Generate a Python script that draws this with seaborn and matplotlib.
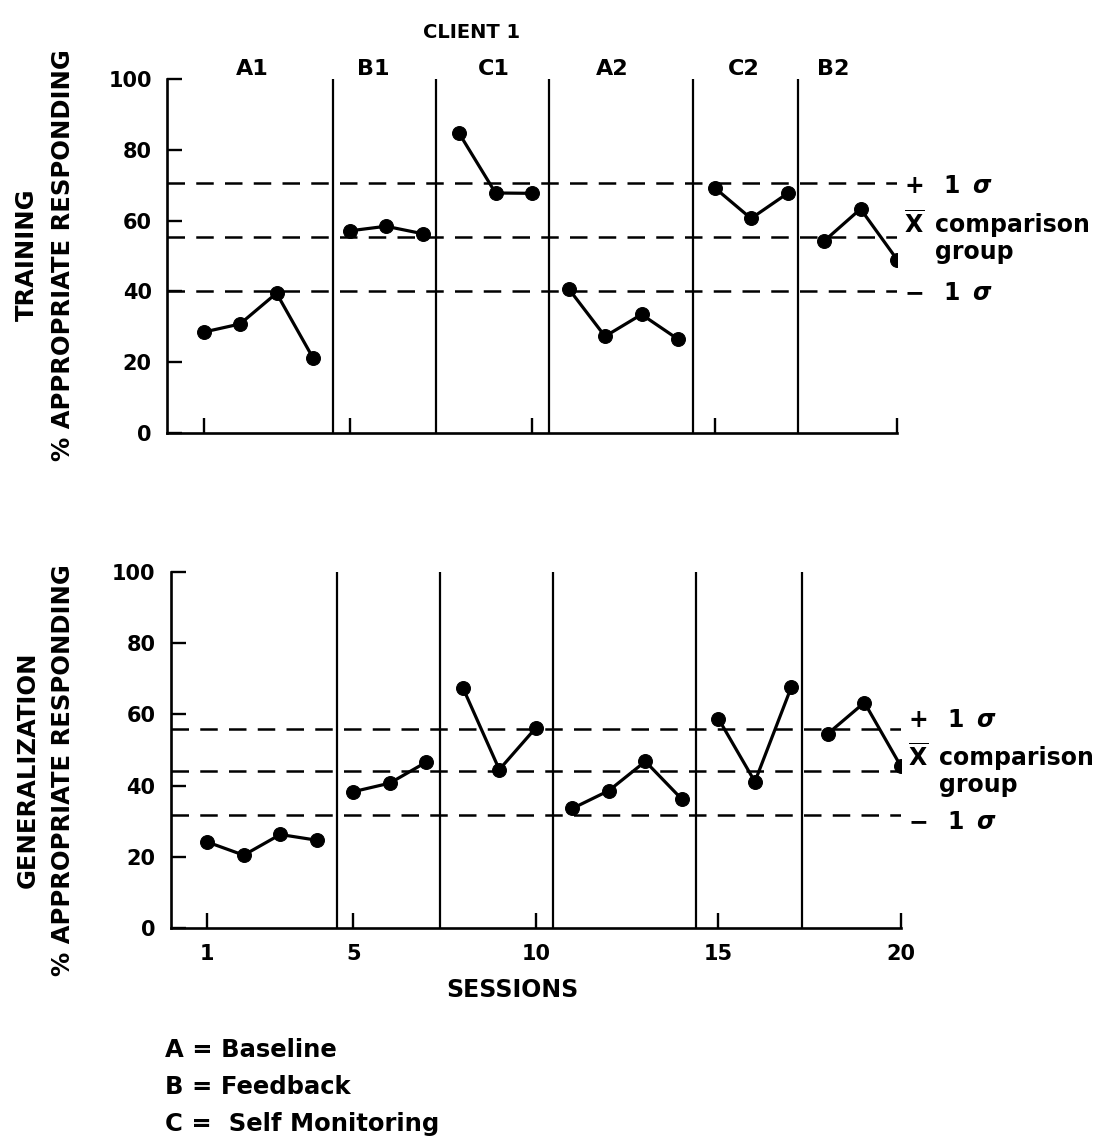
import numpy as np
import pandas as pd
import matplotlib
matplotlib.use("Agg")
import matplotlib.pyplot as plt
import seaborn as sns

# data
sessions = list(range(1, 21))
phases = ["A1"] * 4 + ["B1"] * 3 + ["C1"] * 3 + ["A2"] * 4 + ["C2"] * 3 + ["B2"] * 3
phase_names = ["A1", "B1", "C1", "A2", "C2", "B2"]
phase_breaks = [4.55, 7.37, 10.47, 14.4, 17.3]

training = [28.5, 30.8, 39.5, 21.2, 57.1, 58.4, 56.3, 84.7, 67.8, 67.7,
            40.8, 27.3, 33.5, 26.5, 69.3, 60.6, 67.7, 54.2, 63.3, 49.0]
generalization = [24.2, 20.5, 26.3, 24.7, 38.3, 40.7, 46.6, 67.5, 44.5, 56.2,
                  33.6, 38.6, 46.8, 36.2, 58.8, 41.1, 67.7, 54.6, 63.3, 45.4]

# comparison group: mean, -1 sd, +1 sd
train_ref = [55.3, 40.0, 70.7]
gen_ref = [44.2, 31.8, 55.8]

x_ticks = [1, 5, 10, 15, 20]
y_ticks = [0, 20, 40, 60, 80, 100]
legend_lines = ["A = Baseline", "B = Feedback", "C =  Self Monitoring"]

sns.set_style("ticks")
plt.rcParams["font.family"] = ["DejaVu Sans"]
plt.rcParams["font.weight"] = "bold"
plt.rcParams["mathtext.fontset"] = "dejavusans"
for key in ["text.color", "axes.labelcolor", "xtick.color", "ytick.color",
            "axes.edgecolor"]:
    plt.rcParams[key] = "black"

fig = plt.figure(figsize=(11.12, 11.48), dpi=100)
ax_top = fig.add_axes([0.1502, 0.6228, 0.6565, 0.3084])
ax_bot = fig.add_axes([0.1535, 0.1914, 0.6567, 0.3106])


def draw_panel(ax, values, ref, label_y, show_xlabels):
    df = pd.DataFrame({"session": sessions, "value": values, "phase": phases})
    for y in ref:
        ax.axhline(y, color="black", lw=1.8, dashes=(7, 4.5), zorder=1)
    for xb in phase_breaks:
        ax.axvline(xb, color="black", lw=1.6, zorder=1)
    sns.lineplot(data=df, x="session", y="value", units="phase", estimator=None,
                 color="black", lw=2.3, marker="o", markersize=10,
                 markeredgecolor="black", legend=False, ax=ax, zorder=3)
    ax.set_xlim(0, 20)
    ax.set_ylim(0, 100)
    ax.set_xticks(x_ticks)
    ax.set_yticks(y_ticks)
    ax.set_xlabel("")
    ax.set_ylabel("")
    ax.tick_params(direction="in", length=11, width=1.7, labelsize=15, pad=11)
    if not show_xlabels:
        ax.set_xticklabels([])
    for lbl in ax.get_xticklabels() + ax.get_yticklabels():
        lbl.set_fontweight("bold")
    sns.despine(ax=ax)
    for s in ["left", "bottom"]:
        ax.spines[s].set_linewidth(1.9)

    # right-hand annotations for the comparison group
    kw = dict(transform=ax.transData, clip_on=False, fontsize=17,
              fontweight="bold", va="center")
    ax.text(20.47, label_y[0], "+", ha="center", **kw)
    ax.text(21.5, label_y[0], "1", ha="center", **kw)
    ax.text(22.33, label_y[0], "$\\sigma$", ha="center", **kw)
    ax.text(20.47, label_y[1], "$\\overline{\\mathbf{X}}$", ha="center", **kw)
    ax.text(21.04, label_y[1], "comparison", ha="left", **kw)
    ax.text(21.04, label_y[2], "group", ha="left", **kw)
    ax.text(20.47, label_y[3], "\u2212", ha="center", **kw)
    ax.text(21.5, label_y[3], "1", ha="center", **kw)
    ax.text(22.33, label_y[3], "$\\sigma$", ha="center", **kw)


draw_panel(ax_top, training, train_ref, [69.9, 58.8, 51.2, 39.6], False)
draw_panel(ax_bot, generalization, gen_ref, [58.4, 47.8, 40.2, 29.8], True)

# phase labels above the top panel
label_x = [2.33, 5.64, 8.96, 12.2, 15.8, 18.25]
for name, xl in zip(phase_names, label_x):
    ax_top.text(xl, 99.9, name, ha="center", va="bottom", fontsize=16,
                fontweight="bold", clip_on=False)

fig.text(472 / 1112, 1 - 32 / 1148, "CLIENT 1", ha="center", va="center",
         fontsize=14, fontweight="bold")

fig.text(45 / 1112, 1 - 255 / 1148, "TRAINING\n% APPROPRIATE RESPONDING",
         rotation=90, ha="center", va="center", fontsize=17.5,
         fontweight="bold", linespacing=1.6, multialignment="center")
fig.text(45 / 1112, 1 - 770 / 1148, "GENERALIZATION\n% APPROPRIATE RESPONDING",
         rotation=90, ha="center", va="center", fontsize=17.5,
         fontweight="bold", linespacing=1.6, multialignment="center")

fig.text(512 / 1112, 1 - 990 / 1148, "SESSIONS", ha="center", va="center",
         fontsize=17, fontweight="bold")

for i, line in enumerate(legend_lines):
    fig.text(165 / 1112, 1 - (1050 + 37 * i) / 1148, line, ha="left",
             va="center", fontsize=17.5, fontweight="bold")

fig.savefig("out.png", dpi=100)
